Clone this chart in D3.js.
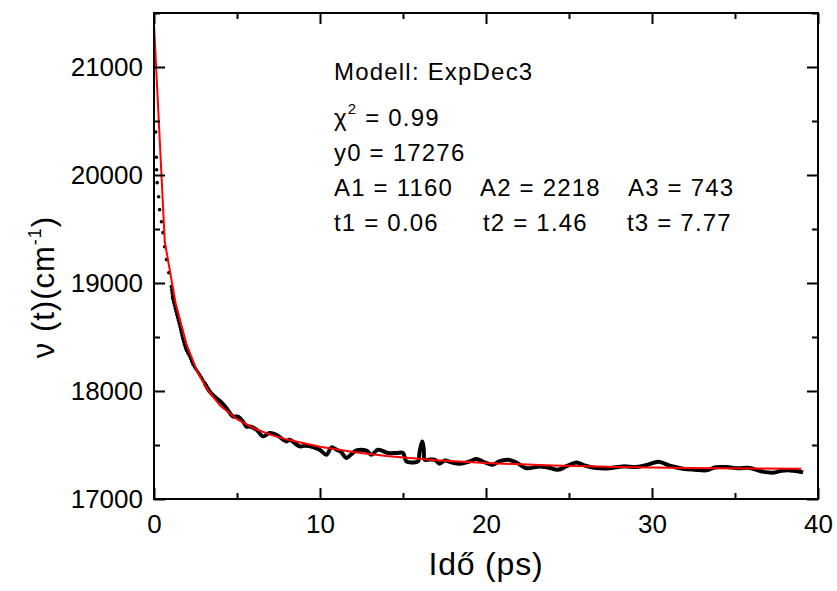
<!DOCTYPE html>
<html>
<head>
<meta charset="utf-8">
<script src="https://cdn.jsdelivr.net/npm/d3@7"></script>
<style>
  body { margin: 0; background: #fff; }
  svg text { font-family: "Liberation Sans", Arial, Helvetica, sans-serif; fill: #000; }
</style>
</head>
<body>
<svg id="chart"></svg>
<script>
// measured data: time (ps) and band position (cm-1)
const dataT = [0.10, 0.14, 0.16, 0.19, 0.28, 0.34, 0.45, 0.54, 0.64, 0.75, 0.89, 1.05, 1.13, 1.35, 1.55, 1.75, 1.94, 2.15, 2.33, 2.55,
  2.75, 3.05, 3.36, 3.66, 4.02, 4.36, 4.76, 5.06, 5.36, 5.57, 5.77, 6.17, 6.57, 6.97, 7.37, 7.98, 8.17, 8.78, 9.14, 9.58,
  9.98, 10.39, 10.69, 10.99, 11.25, 11.59, 11.85, 12.19, 12.80, 13.10, 13.49, 14.10, 14.60, 15.00, 15.20, 15.60, 15.90, 16.00, 16.17, 16.25,
  16.31, 16.51, 16.91, 17.21, 17.51, 17.92, 18.42, 19.02, 19.42, 19.92, 20.42, 20.78, 21.33, 21.86, 22.43, 23.23, 23.78, 24.34, 24.86, 25.45,
  26.00, 26.65, 27.45, 28.25, 29.06, 29.74, 30.40, 31.07, 31.87, 32.57, 33.28, 33.84, 34.48, 35.16, 35.89, 36.55, 37.29, 37.81, 38.29, 38.78, 39.10];
const dataV = [20398, 20165, 20049, 19929, 19799, 19679, 19567, 19466, 19336, 19216, 19095, 18966, 18864, 18722, 18605, 18475, 18382, 18320, 18253, 18197,
  18151, 18074, 17993, 17947, 17901, 17843, 17765, 17762, 17718, 17669, 17672, 17642, 17580, 17611, 17595, 17533, 17549, 17487, 17494, 17481,
  17456, 17410, 17478, 17456, 17438, 17380, 17410, 17450, 17447, 17410, 17456, 17426, 17426, 17426, 17348, 17339, 17348, 17438, 17533, 17456,
  17364, 17364, 17364, 17327, 17357, 17339, 17327, 17348, 17370, 17339, 17318, 17348, 17364, 17336, 17285, 17302, 17290, 17271, 17304, 17339,
  17308, 17287, 17285, 17302, 17296, 17318, 17345, 17308, 17281, 17271, 17265, 17294, 17296, 17285, 17287, 17257, 17244, 17262, 17265, 17257, 17246];

// ExpDec3 fit curve, sampled
const fitT = [0, 0.65, 1.3, 1.95, 2.6, 3.25, 4, 5, 6, 7, 8, 10, 12, 14, 17, 20, 24, 28, 32, 36, 39];
const fitV = [21397, 19380, 18815, 18437, 18182, 18005, 17863, 17739, 17656, 17596, 17551, 17483, 17435, 17399, 17359, 17333, 17310, 17296, 17288, 17283, 17281];

const xTicks = [0, 10, 20, 30, 40];
const xMinor = [5, 15, 25, 35];
const yTicks = [17000, 18000, 19000, 20000, 21000];
const yMinor = [17500, 18500, 19500, 20500, 21500];

const fitLines = [
  [{x: 334, text: "Modell: ExpDec3"}],
  null,
  [{x: 334, text: "y0 = 17276"}],
  [{x: 334, text: "A1 = 1160"}, {x: 480, text: "A2 = 2218"}, {x: 628, text: "A3 = 743"}],
  [{x: 334, text: "t1 = 0.06"}, {x: 483, text: "t2 = 1.46"}, {x: 627, text: "t3 = 7.77"}]
];
const lineY = [80, 125.5, 161, 196, 231];

const width = 837, height = 591;
const margin = {top: 13, right: 19, bottom: 92, left: 154};

const svg = d3.select("#chart")
    .attr("width", width)
    .attr("height", height);

const x = d3.scaleLinear().domain([0, 40]).range([margin.left, width - margin.right]);
const y = d3.scaleLinear().domain([17000, 21500]).range([height - margin.bottom, margin.top]);

const points = dataT.map((t, i) => ({t: t, v: dataV[i]}));
const fit = fitT.map((t, i) => ({t: t, v: fitV[i]}));

// data: sparse dots early on, dense trace later
svg.append("g")
  .selectAll("circle")
  .data(points.filter(d => d.t < 1.2))
  .join("circle")
    .attr("cx", d => x(d.t))
    .attr("cy", d => y(d.v))
    .attr("r", 1.8)
    .attr("fill", "#000");

const line = d3.line()
    .x(d => x(d.t))
    .y(d => y(d.v))
    .curve(d3.curveCatmullRom);

// early part drawn dotted, the rest thick
svg.append("path")
    .datum(points.filter(d => d.t >= 1.0 && d.t <= 3.4))
    .attr("d", line)
    .attr("fill", "none")
    .attr("stroke", "#000")
    .attr("stroke-width", 3.4)
    .attr("stroke-linecap", "round")
    .attr("stroke-dasharray", "0.5,2.6");

svg.append("path")
    .datum(points.filter(d => d.t >= 3.0))
    .attr("d", line)
    .attr("fill", "none")
    .attr("stroke", "#000")
    .attr("stroke-width", 4)
    .attr("stroke-linejoin", "round");

svg.append("path")
    .datum(fit)
    .attr("d", d3.line().x(d => x(d.t)).y(d => y(d.v)))
    .attr("fill", "none")
    .attr("stroke", "#ff0000")
    .attr("stroke-width", 2);

// axes, ticks pointing inwards on all four sides
function styleAxis(g) {
  g.selectAll("line").attr("stroke", "#000").attr("stroke-width", 2);
  g.select(".domain").remove();
}

const bottom = height - margin.bottom;
svg.append("g")
    .attr("transform", `translate(0,${bottom})`)
    .call(d3.axisBottom(x).tickValues(xTicks).tickSizeInner(-11).tickSizeOuter(0).tickPadding(16))
    .call(styleAxis)
    .call(g => g.selectAll("text").style("font-size", "26px"));
svg.append("g")
    .attr("transform", `translate(0,${bottom})`)
    .call(d3.axisBottom(x).tickValues(xMinor).tickSize(-6).tickFormat(""))
    .call(styleAxis);
svg.append("g")
    .attr("transform", `translate(0,${margin.top})`)
    .call(d3.axisTop(x).tickValues(xTicks).tickSize(-11).tickFormat(""))
    .call(styleAxis);
svg.append("g")
    .attr("transform", `translate(0,${margin.top})`)
    .call(d3.axisTop(x).tickValues(xMinor).tickSize(-6).tickFormat(""))
    .call(styleAxis);

svg.append("g")
    .attr("transform", `translate(${margin.left},0)`)
    .call(d3.axisLeft(y).tickValues(yTicks).tickSizeInner(-11).tickSizeOuter(0).tickPadding(11).tickFormat(d3.format("d")))
    .call(styleAxis)
    .call(g => g.selectAll("text").style("font-size", "26px"));
svg.append("g")
    .attr("transform", `translate(${margin.left},0)`)
    .call(d3.axisLeft(y).tickValues(yMinor).tickSize(-6).tickFormat(""))
    .call(styleAxis);
svg.append("g")
    .attr("transform", `translate(${width - margin.right},0)`)
    .call(d3.axisRight(y).tickValues(yTicks).tickSize(-11).tickFormat(""))
    .call(styleAxis);
svg.append("g")
    .attr("transform", `translate(${width - margin.right},0)`)
    .call(d3.axisRight(y).tickValues(yMinor).tickSize(-6).tickFormat(""))
    .call(styleAxis);

// frame
svg.append("rect")
    .attr("x", margin.left)
    .attr("y", margin.top)
    .attr("width", width - margin.left - margin.right)
    .attr("height", height - margin.top - margin.bottom)
    .attr("fill", "none")
    .attr("stroke", "#000")
    .attr("stroke-width", 2);

// axis titles
svg.append("text")
    .attr("x", (margin.left + width - margin.right) / 2)
    .attr("y", 575)
    .attr("text-anchor", "middle")
    .style("font-size", "32px")
    .style("letter-spacing", "0.8px")
    .text("Idő (ps)");

const yTitle = svg.append("text")
    .attr("transform", "translate(54,287) rotate(-90)")
    .attr("text-anchor", "middle")
    .style("font-size", "31px")
    .style("letter-spacing", "1px");
yTitle.append("tspan").text("ν (t)(cm");
yTitle.append("tspan").attr("dy", -13).style("font-size", "18px").text("-1");
yTitle.append("tspan").attr("dy", 13).text(")");

// fit parameters
const info = svg.append("g").style("font-size", "24px").style("letter-spacing", "1.2px");
fitLines.forEach((row, i) => {
  if (!row) return;
  row.forEach(c => {
    info.append("text").attr("x", c.x).attr("y", lineY[i]).text(c.text);
  });
});
const chi = info.append("text").attr("x", 334).attr("y", lineY[1]);
chi.append("tspan").text("χ");
chi.append("tspan").attr("dy", -12).style("font-size", "15px").text("2");
chi.append("tspan").attr("dy", 12).text(" = 0.99");
</script>
</body>
</html>
